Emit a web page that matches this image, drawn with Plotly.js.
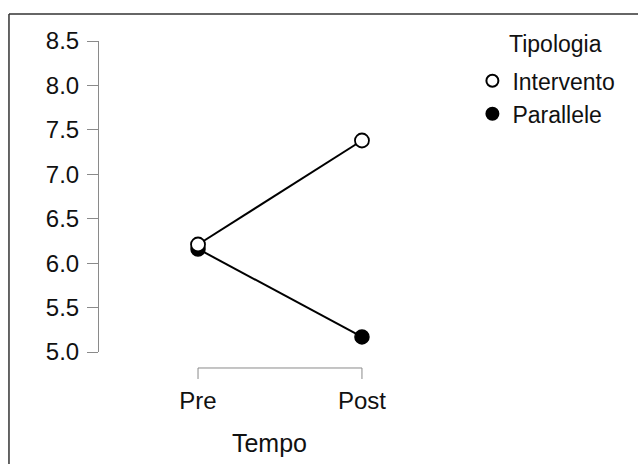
<!DOCTYPE html>
<html>
<head>
<meta charset="utf-8">
<script src="https://cdn.plot.ly/plotly-3.0.1.min.js"></script>
<style>html,body{margin:0;padding:0;background:#fff;}</style>
</head>
<body>
<div id="chart" style="width:638px;height:464px;"></div>
<script>
const categories = ['Pre', 'Post'];
const intervento = [6.21, 7.38];
const parallele = [6.16, 5.17];
const yTicks = [5.0, 5.5, 6.0, 6.5, 7.0, 7.5, 8.0, 8.5];
const yTickLabels = ['5.0', '5.5', '6.0', '6.5', '7.0', '7.5', '8.0', '8.5'];
const legendTitle = 'Tipologia';
const xTitle = 'Tempo';

const FONT = 'Liberation Sans, Arial, sans-serif';

const traces = [
  {
    x: categories, y: parallele, name: 'Parallele', type: 'scatter', mode: 'lines',
    showlegend: false, hoverinfo: 'skip',
    line: {color: '#000', width: 2}
  },
  {
    x: categories, y: parallele, name: 'Parallele', type: 'scatter', mode: 'markers',
    legendrank: 2, legendgroup: 'b',
    marker: {symbol: 'circle', size: 14, color: '#000', line: {color: '#000', width: 1.5}}
  },
  {
    x: categories, y: intervento, name: 'Intervento', type: 'scatter', mode: 'lines',
    showlegend: false, hoverinfo: 'skip',
    line: {color: '#000', width: 2}
  },
  {
    x: categories, y: intervento, name: 'Intervento', type: 'scatter', mode: 'markers',
    legendrank: 1, legendgroup: 'a',
    marker: {symbol: 'circle', size: 14, color: '#fff', line: {color: '#000', width: 1.8}}
  }
];

const gray = '#8a8a8a';
const axY = -0.0514, tickY = -0.0868;
const shapes = [
  {type: 'line', xref: 'x', yref: 'paper', x0: 0, x1: 1, y0: axY, y1: axY, line: {color: gray, width: 1}},
  {type: 'line', xref: 'x', yref: 'paper', x0: 0, x1: 0, y0: axY, y1: tickY, line: {color: gray, width: 1}},
  {type: 'line', xref: 'x', yref: 'paper', x0: 1, x1: 1, y0: axY, y1: tickY, line: {color: gray, width: 1}},
  {type: 'line', xref: 'paper', yref: 'paper', x0: -0.264, x1: 1.7, y0: 1.0868, y1: 1.0868, line: {color: '#333', width: 1.5}},
  {type: 'line', xref: 'paper', yref: 'paper', x0: -0.264, x1: -0.264, y0: 1.0868, y1: -0.5, line: {color: '#333', width: 1.5}}
];

const layout = {
  width: 638, height: 464,
  margin: {l: 99, r: 198, t: 41, b: 112, pad: 0},
  paper_bgcolor: '#fff', plot_bgcolor: '#fff',
  font: {family: FONT, size: 24, color: '#111'},
  showlegend: true,
  legend: {
    x: 1.095, xanchor: 'left', y: 0.941, yanchor: 'top',
    font: {size: 23, color: '#111'},
    traceorder: 'grouped', tracegroupgap: 0,
    itemsizing: 'constant', bgcolor: 'rgba(0,0,0,0)'
  },
  annotations: [{
    text: legendTitle, xref: 'paper', yref: 'paper',
    x: 1.34, xanchor: 'center', y: 0.99, yanchor: 'middle',
    showarrow: false, font: {size: 23, color: '#111'}
  }],
  xaxis: {
    type: 'category', range: [-0.604, 1.476],
    showgrid: false, zeroline: false, showline: false,
    ticks: '', ticklabelstandoff: 32,
    tickfont: {size: 24},
    title: {text: xTitle, font: {size: 25}, standoff: 21}
  },
  yaxis: {
    range: [5.0, 8.5], tickvals: yTicks, ticktext: yTickLabels,
    showgrid: false, zeroline: false,
    showline: true, linecolor: gray, linewidth: 1,
    ticks: 'outside', ticklen: 11, tickcolor: gray, tickwidth: 1,
    ticklabelstandoff: 3,
    tickfont: {size: 24}
  },
  shapes: shapes
};

Plotly.newPlot('chart', traces, layout, {displayModeBar: false, staticPlot: true});
</script>
</body>
</html>
